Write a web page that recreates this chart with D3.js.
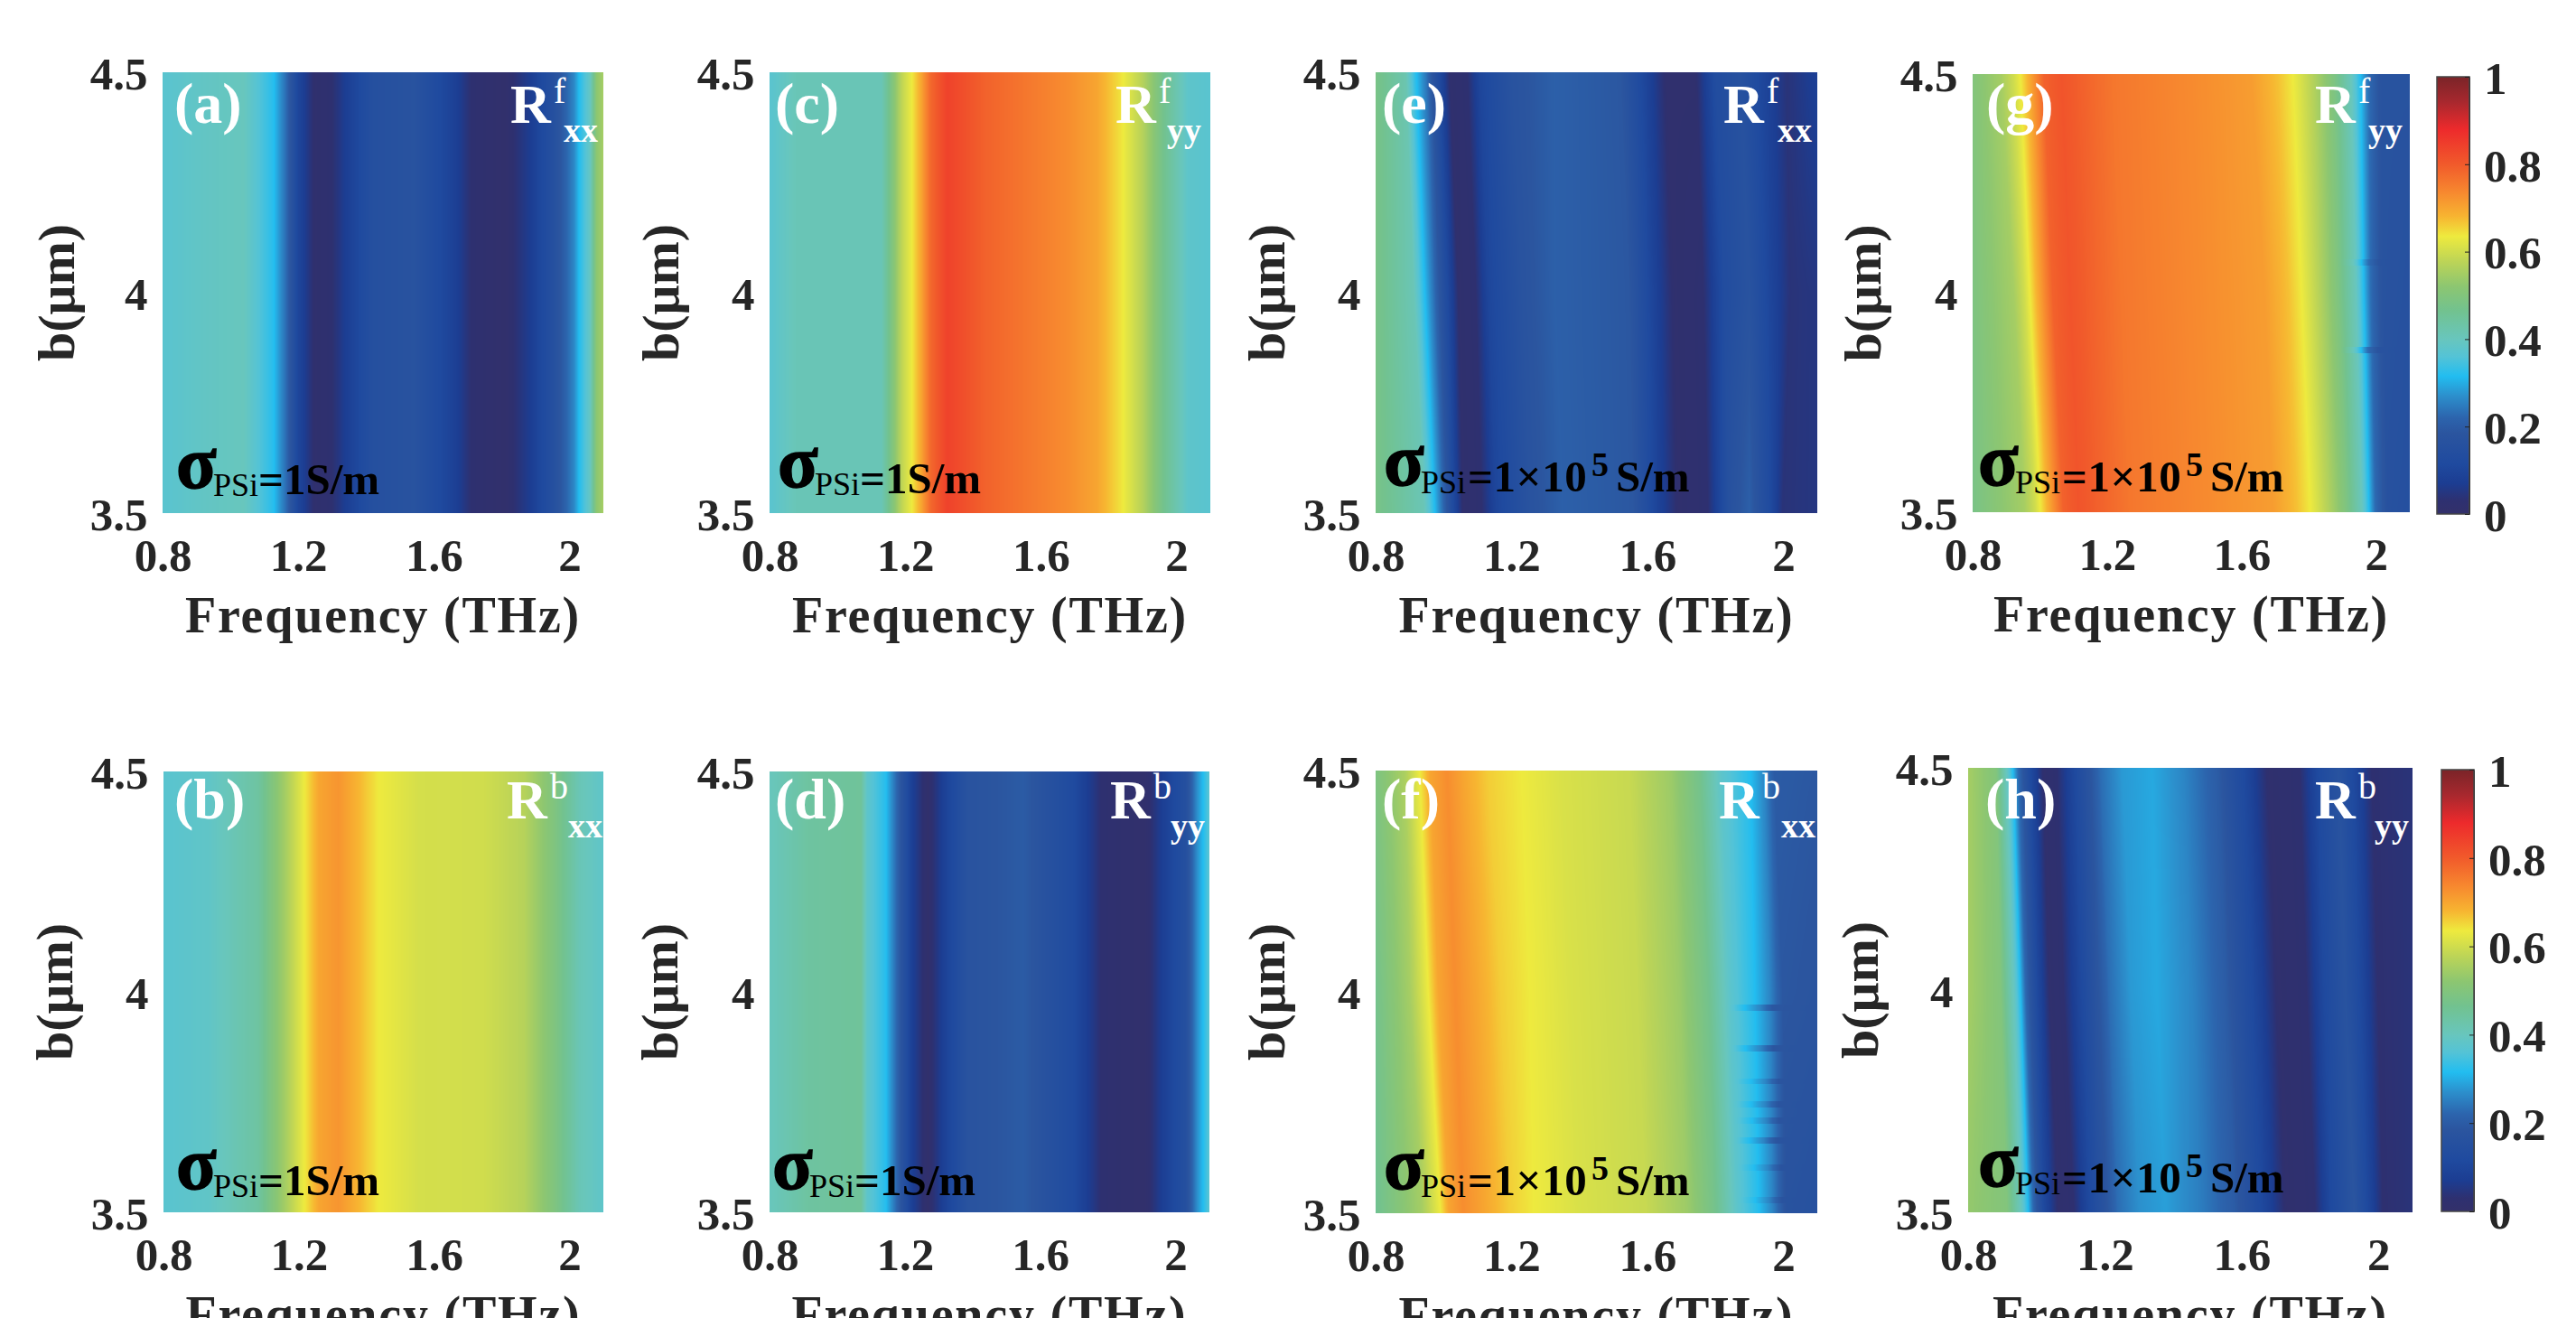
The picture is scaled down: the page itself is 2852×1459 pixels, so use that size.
<!DOCTYPE html>
<html>
<head>
<meta charset="utf-8">
<script src="https://cdn.jsdelivr.net/npm/d3@7"></script>
<style>
  html, body { margin: 0; background: #fff; overflow: hidden; }
  text { font-family: "Liberation Serif", serif; font-weight: bold; }
</style>
</head>
<body>
<script>
// colour map
const cmapValues = [0, 0.03, 0.07, 0.115, 0.185, 0.22, 0.27, 0.315, 0.36, 0.4, 0.465, 0.52, 0.577, 0.635, 0.68, 0.735, 0.8, 0.88, 0.942, 1];
const cmapColors = ['#33306a', '#2e3070', '#1c3d92', '#1f4a9f', '#2b559f', '#2c64ad', '#2c8fcc', '#22bdf0', '#54c3d6', '#68c6bd', '#72c28f', '#8cc671', '#bcd457', '#eeea3e', '#f7b531', '#f7892f', '#f15a2b', '#ed2a2c', '#a8282e', '#7a2428'];

const freqTicks = [0.8, 1.2, 1.6, 2];
const bTicks = [3.5, 4, 4.5];
const barTicks = [0, 0.2, 0.4, 0.6, 0.8, 1];
const freqDomain = [0.8, 2.1];
const bDomain = [3.5, 4.5];

// reflectance profiles: frequency nodes and R at those nodes, one list per b row
const bFlat = [4];
const fA = [[0.8, 0.93, 1.04, 1.127, 1.164, 1.2, 1.25, 1.3, 1.347, 1.42, 1.54, 1.665, 1.71, 1.81, 1.885, 1.958, 2.013, 2.03, 2.06, 2.08, 2.1]];
const rA = [[0.37, 0.39, 0.4, 0.32, 0.23, 0.1, 0.02, 0.03, 0.08, 0.15, 0.17, 0.08, 0.03, 0.01, 0.07, 0.16, 0.26, 0.32, 0.39, 0.52, 0.55]];
const fB = [[0.8, 0.936, 1.08, 1.16, 1.217, 1.26, 1.317, 1.377, 1.436, 1.556, 1.747, 1.866, 1.96, 2.03, 2.1]];
const rB = [[0.37, 0.385, 0.44, 0.55, 0.635, 0.7, 0.72, 0.68, 0.635, 0.605, 0.6, 0.57, 0.49, 0.41, 0.38]];
const fC = [[0.8, 0.88, 1.13, 1.153, 1.19, 1.22, 1.244, 1.275, 1.324, 1.434, 1.556, 1.68, 1.765, 1.814, 1.843, 1.9, 1.96, 2.033, 2.1]];
const rC = [[0.37, 0.41, 0.41, 0.47, 0.58, 0.635, 0.69, 0.78, 0.84, 0.79, 0.76, 0.73, 0.7, 0.66, 0.635, 0.57, 0.47, 0.38, 0.37]];
const fD = [[0.8, 0.91, 1.07, 1.088, 1.143, 1.17, 1.22, 1.267, 1.314, 1.385, 1.55, 1.695, 1.78, 1.91, 1.957, 2.03, 2.064, 2.083, 2.1]];
const rD = [[0.4, 0.44, 0.45, 0.38, 0.32, 0.24, 0.08, 0.01, 0.08, 0.17, 0.2, 0.12, 0.03, 0.01, 0.07, 0.15, 0.27, 0.32, 0.37]];

const bSlant = [4.5, 4, 3.5];
const fE = [
  [0.8, 0.888, 0.918, 0.949, 0.985, 1.02, 1.07, 1.107, 1.2, 1.327, 1.52, 1.6, 1.656, 1.74, 1.8, 1.875, 1.94, 2.01, 2.1],
  [0.8, 0.912, 0.943, 0.973, 1.01, 1.046, 1.095, 1.132, 1.23, 1.327, 1.546, 1.62, 1.68, 1.765, 1.826, 1.9, 1.96, 2.02, 2.1],
  [0.8, 0.943, 0.973, 0.998, 1.028, 1.058, 1.113, 1.156, 1.254, 1.35, 1.558, 1.632, 1.693, 1.778, 1.84, 1.9, 1.96, 1.997, 2.1]
];
const rE = [
  [0.48, 0.42, 0.32, 0.24, 0.12, 0.02, 0.03, 0.1, 0.17, 0.21, 0.19, 0.09, 0.02, 0.02, 0.13, 0.16, 0.1, 0.04, 0.08],
  [0.48, 0.41, 0.32, 0.23, 0.12, 0.02, 0.03, 0.1, 0.17, 0.21, 0.19, 0.09, 0.02, 0.03, 0.13, 0.17, 0.1, 0.04, 0.05],
  [0.48, 0.41, 0.32, 0.23, 0.12, 0.02, 0.03, 0.1, 0.17, 0.21, 0.19, 0.09, 0.02, 0.03, 0.16, 0.21, 0.12, 0.04, 0.05]
];
const fF = [
  [0.8, 0.888, 0.93, 0.96, 1.01, 1.058, 1.13, 1.23, 1.35, 1.546, 1.668, 1.754, 1.815, 1.9, 1.943, 1.973, 2.1],
  [0.8, 0.9, 0.955, 0.985, 1.034, 1.095, 1.168, 1.254, 1.376, 1.57, 1.693, 1.778, 1.84, 1.912, 1.96, 1.998, 2.1],
  [0.8, 0.937, 0.991, 1.016, 1.058, 1.12, 1.193, 1.266, 1.4, 1.595, 1.717, 1.8, 1.863, 1.925, 1.967, 2.01, 2.1]
];
const rF = [
  [0.49, 0.56, 0.635, 0.7, 0.73, 0.7, 0.66, 0.635, 0.61, 0.59, 0.54, 0.47, 0.38, 0.32, 0.26, 0.2, 0.19],
  [0.47, 0.55, 0.635, 0.7, 0.73, 0.7, 0.66, 0.635, 0.61, 0.59, 0.54, 0.47, 0.38, 0.32, 0.26, 0.19, 0.18],
  [0.46, 0.55, 0.635, 0.7, 0.73, 0.7, 0.66, 0.635, 0.61, 0.59, 0.54, 0.47, 0.38, 0.32, 0.26, 0.17, 0.16]
];
const fG = [
  [0.8, 0.884, 0.922, 0.942, 0.967, 1.012, 1.064, 1.218, 1.476, 1.63, 1.707, 1.752, 1.81, 1.875, 1.926, 1.952, 1.978, 2.016, 2.1],
  [0.8, 0.922, 0.954, 0.97, 0.993, 1.038, 1.09, 1.244, 1.5, 1.67, 1.74, 1.778, 1.83, 1.888, 1.94, 1.962, 1.984, 2.02, 2.1],
  [0.8, 0.954, 0.987, 1.002, 1.025, 1.07, 1.115, 1.27, 1.527, 1.695, 1.765, 1.804, 1.855, 1.913, 1.958, 1.978, 1.997, 2.036, 2.1]
];
const rG = [
  [0.5, 0.55, 0.6, 0.635, 0.69, 0.79, 0.81, 0.76, 0.73, 0.71, 0.67, 0.635, 0.57, 0.49, 0.4, 0.32, 0.23, 0.17, 0.17],
  [0.49, 0.55, 0.6, 0.635, 0.69, 0.79, 0.81, 0.76, 0.73, 0.71, 0.67, 0.635, 0.57, 0.49, 0.4, 0.32, 0.23, 0.17, 0.16],
  [0.48, 0.55, 0.6, 0.635, 0.69, 0.79, 0.81, 0.76, 0.73, 0.71, 0.67, 0.635, 0.57, 0.49, 0.4, 0.32, 0.23, 0.16, 0.15]
];
const fH = [
  [0.8, 0.882, 0.914, 0.93, 0.946, 0.984, 1.022, 1.06, 1.098, 1.187, 1.25, 1.339, 1.428, 1.53, 1.618, 1.68, 1.77, 1.82, 1.884, 1.935, 1.98, 2.1],
  [0.8, 0.895, 0.936, 0.952, 0.967, 1.003, 1.04, 1.079, 1.117, 1.212, 1.276, 1.352, 1.453, 1.555, 1.643, 1.707, 1.79, 1.84, 1.903, 1.954, 1.998, 2.1],
  [0.8, 0.914, 0.958, 0.975, 0.99, 1.022, 1.066, 1.11, 1.142, 1.238, 1.3, 1.377, 1.479, 1.58, 1.669, 1.733, 1.815, 1.86, 1.93, 1.975, 2.013, 2.1]
];
const rH = [
  [0.55, 0.5, 0.39, 0.32, 0.23, 0.11, 0.02, 0.03, 0.09, 0.23, 0.28, 0.295, 0.26, 0.2, 0.1, 0.02, 0.03, 0.11, 0.17, 0.1, 0.03, 0.04],
  [0.55, 0.5, 0.39, 0.32, 0.23, 0.11, 0.02, 0.03, 0.09, 0.23, 0.28, 0.295, 0.26, 0.2, 0.1, 0.02, 0.03, 0.11, 0.17, 0.1, 0.03, 0.04],
  [0.53, 0.5, 0.39, 0.32, 0.23, 0.11, 0.02, 0.03, 0.09, 0.23, 0.27, 0.285, 0.25, 0.2, 0.1, 0.02, 0.03, 0.11, 0.18, 0.1, 0.03, 0.04]
];

// thin horizontal streaks in the simulation: b of the row, how far (THz) the upper edge is pulled down, and where the streak starts
const streakB = { f: [3.965, 3.873, 3.798, 3.746, 3.71, 3.665, 3.603, 3.53], g: [4.07, 3.87], e: [], h: [] };
const streakDf = { f: [0.03, 0.03, 0.016, 0.018, 0.016, 0.024, 0.012, 0.01], g: [0.006, 0.012], e: [], h: [] };
const streakFrom = { f: 1.87, g: 1.93, e: 2.2, h: 2.2 };

const panels = [
  { id: 'a', f: fA, r: rA, b: bFlat, sup: 'f', sub: 'xx', sigma: '1', box: [180, 80, 668, 568], yTitle: 82, label: 193, rx: 565, subx: 624, sx: 195, sy: 540 },
  { id: 'c', f: fC, r: rC, b: bFlat, sup: 'f', sub: 'yy', sigma: '1', box: [852, 80, 1340, 568], yTitle: 751, label: 858, rx: 1235, subx: 1292, sx: 861, sy: 539 },
  { id: 'e', f: fE, r: rE, b: bSlant, sup: 'f', sub: 'xx', sigma: '5', box: [1523, 80, 2012, 568], yTitle: 1422, label: 1530, rx: 1908, subx: 1968, sx: 1532, sy: 537 },
  { id: 'g', f: fG, r: rG, b: bSlant, sup: 'f', sub: 'yy', sigma: '5', box: [2184, 82, 2668, 567], yTitle: 2082, label: 2199, rx: 2563, subx: 2622, sx: 2190, sy: 537 },
  { id: 'b', f: fB, r: rB, b: bFlat, sup: 'b', sub: 'xx', sigma: '1', box: [181, 854, 668, 1342], yTitle: 80, label: 193, rx: 561, subx: 629, sx: 195, sy: 1316 },
  { id: 'd', f: fD, r: rD, b: bFlat, sup: 'b', sub: 'yy', sigma: '1', box: [852, 854, 1339, 1342], yTitle: 750, label: 858, rx: 1229, subx: 1296, sx: 855, sy: 1316 },
  { id: 'f', f: fF, r: rF, b: bSlant, sup: 'b', sub: 'xx', sigma: '5', box: [1523, 853, 2012, 1343], yTitle: 1422, label: 1530, rx: 1903, subx: 1972, sx: 1532, sy: 1316 },
  { id: 'h', f: fH, r: rH, b: bSlant, sup: 'b', sub: 'yy', sigma: '5', box: [2179, 850, 2671, 1342], yTitle: 2079, label: 2198, rx: 2563, subx: 2629, sx: 2190, sy: 1313 }
];
const colorBars = [[2698, 85, 2734, 569], [2703, 852, 2739, 1341]];

const width = 2852, height = 1459;
const inkColor = '#262626';
const tickFont = '51px';

const color = d3.scaleLinear().domain(cmapValues).range(cmapColors).clamp(true);
const lut = d3.range(1024).map(i => d3.rgb(color(i / 1023)));

const svg = d3.select('body').append('svg')
  .attr('width', width)
  .attr('height', height)
  .style('display', 'block');

// profile along frequency for a given b, the rows are blended node by node
function profileAt(p, b) {
  let f, r;
  if (p.b.length === 1) {
    f = p.f[0].slice();
    r = p.r[0];
  } else {
    const pos = d3.scaleLinear().domain(p.b).range(d3.range(p.b.length)).clamp(true)(b);
    const i = Math.min(Math.floor(pos), p.b.length - 2);
    const t = pos - i;
    f = p.f[i].map((v, k) => v + (p.f[i + 1][k] - v) * t);
    r = p.r[i].map((v, k) => v + (p.r[i + 1][k] - v) * t);
  }
  const sb = streakB[p.id] || [];
  const sd = streakDf[p.id] || [];
  sb.forEach((s, j) => {
    if (Math.abs(b - s) < 0.007) {
      f = f.map((v, k) => (v > streakFrom[p.id] && k < f.length - 1) ? v - sd[j] : v);
    }
  });
  return d3.scaleLinear().domain(f).range(r).clamp(true);
}

panels.forEach(p => {
  const [x0, y0, x1, y1] = p.box;
  const w = x1 - x0, h = y1 - y0;
  const x = d3.scaleLinear().domain(freqDomain).range([x0, x1]);
  const y = d3.scaleLinear().domain(bDomain).range([y1, y0]);

  // heat map painted pixel by pixel, then placed in the svg
  const canvas = document.createElement('canvas');
  canvas.width = w;
  canvas.height = h;
  const ctx = canvas.getContext('2d');
  const img = ctx.createImageData(w, h);
  for (let j = 0; j < h; j++) {
    const prof = profileAt(p, y.invert(y0 + j + 0.5));
    for (let i = 0; i < w; i++) {
      const c = lut[Math.round(prof(x.invert(x0 + i + 0.5)) * 1023)];
      const o = (j * w + i) * 4;
      img.data[o] = c.r;
      img.data[o + 1] = c.g;
      img.data[o + 2] = c.b;
      img.data[o + 3] = 255;
    }
  }
  ctx.putImageData(img, 0, 0);

  const g = svg.append('g').attr('class', 'panel-' + p.id);
  g.append('image')
    .attr('x', x0).attr('y', y0)
    .attr('width', w).attr('height', h)
    .attr('href', canvas.toDataURL());

  const xAxis = d3.axisBottom(x).tickValues(freqTicks).tickSize(0).tickPadding(28).tickFormat(d3.format('~g'));
  const yAxis = d3.axisLeft(y).tickValues(bTicks).tickSize(0).tickPadding(16.5).tickFormat(d3.format('~g'));
  const ax = g.append('g').attr('transform', 'translate(0,' + y1 + ')').call(xAxis);
  const ay = g.append('g').attr('transform', 'translate(' + x0 + ',0)').call(yAxis);
  [ax, ay].forEach(a => {
    a.select('.domain').remove();
    a.selectAll('text')
      .style('font-family', '"Liberation Serif", serif')
      .style('font-weight', 'bold')
      .style('font-size', tickFont)
      .attr('fill', inkColor);
  });
  ay.selectAll('text').attr('dy', '0.36em');

  // the lower row's title runs off the bottom of the page, same as the source figure
  g.append('text')
    .attr('x', (x0 + x1) / 2)
    .attr('y', y1 + 132)
    .attr('text-anchor', 'middle')
    .attr('fill', inkColor)
    .style('font-size', '56px')
    .style('letter-spacing', '1.8px')
    .text('Frequency (THz)');

  g.append('text')
    .attr('transform', 'translate(' + p.yTitle + ',' + (y0 + y1) / 2 + ') rotate(-90)')
    .attr('text-anchor', 'middle')
    .attr('fill', inkColor)
    .style('font-size', '58px')
    .text('b(μm)');

  // white panel letter and component name
  const top = y0 < 400 ? 136 : 906;
  const white = (txt, px, py, size, weight) => g.append('text')
    .attr('x', px).attr('y', py)
    .attr('fill', '#fff')
    .style('font-size', size + 'px')
    .style('font-weight', weight || 'bold')
    .text(txt);
  white('(' + p.id + ')', p.label, top, 64);
  white('R', p.rx, top, 62);
  white(p.sup, p.rx + 48, top - 22, 40, 'normal');
  white(p.sub, p.subx, top + 21, 38);

  // conductivity note in black
  const black = (txt, px, py, size, weight) => g.append('text')
    .attr('x', px).attr('y', py)
    .attr('fill', '#000')
    .style('font-size', size + 'px')
    .style('font-weight', weight || 'bold')
    .text(txt);
  black('σ', p.sx, p.sy, 82).attr('stroke', '#000').attr('stroke-width', 1.5);
  black('PSi', p.sx + 41, p.sy + 9, 36, 'normal');
  if (p.sigma === '1') {
    black('=1S/m', p.sx + 91, p.sy + 7, 49);
  } else {
    black('=1×10', p.sx + 93, p.sy + 7, 49).style('letter-spacing', '0.6px');
    black('5', p.sx + 230, p.sy - 10, 38);
    black('S/m', p.sx + 257, p.sy + 7, 49);
  }
});

// colour bars
const defs = svg.append('defs');
const grad = defs.append('linearGradient')
  .attr('id', 'cmap')
  .attr('x1', 0).attr('x2', 0).attr('y1', 1).attr('y2', 0);
grad.selectAll('stop')
  .data(cmapValues)
  .join('stop')
  .attr('offset', d => d)
  .attr('stop-color', (d, i) => cmapColors[i]);

colorBars.forEach(([x0, y0, x1, y1]) => {
  const s = d3.scaleLinear().domain([0, 1]).range([y1, y0]);
  const g = svg.append('g');
  g.append('rect')
    .attr('x', x0).attr('y', y0)
    .attr('width', x1 - x0).attr('height', y1 - y0)
    .attr('fill', 'url(#cmap)')
    .attr('stroke', '#444')
    .attr('stroke-width', 1.5);
  const axis = d3.axisRight(s).tickValues(barTicks).tickSizeInner(-5).tickSizeOuter(0).tickPadding(16).tickFormat(d3.format('~g'));
  const a = g.append('g').attr('transform', 'translate(' + x1 + ',0)').call(axis);
  a.select('.domain').attr('stroke', '#333');
  a.selectAll('line').attr('stroke', '#222');
  a.selectAll('text')
    .attr('dy', '0.36em')
    .attr('fill', inkColor)
    .style('font-family', '"Liberation Serif", serif')
    .style('font-weight', 'bold')
    .style('font-size', tickFont);
});
</script>
</body>
</html>
